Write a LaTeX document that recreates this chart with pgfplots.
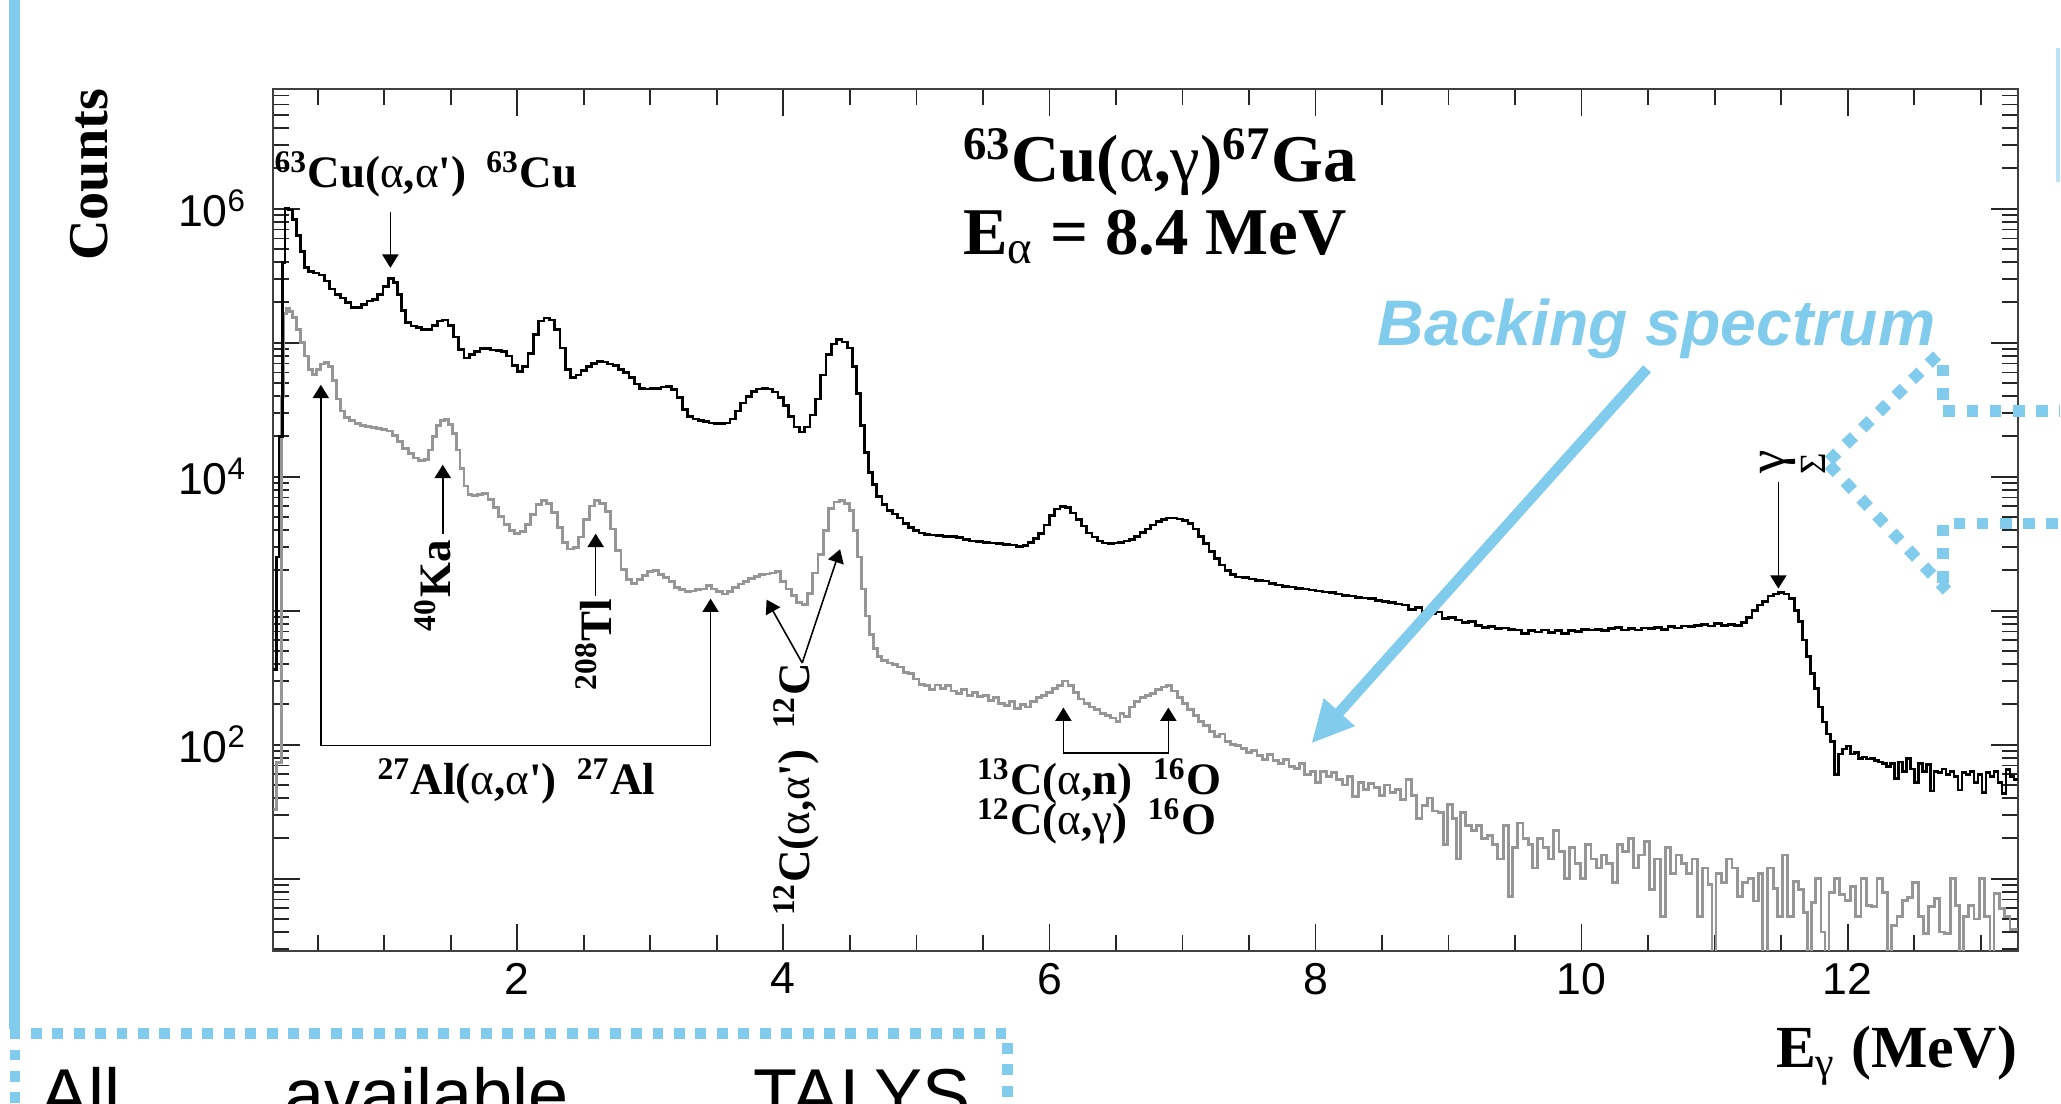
\documentclass[border=0pt]{standalone}
\usepackage{pgfplots}
\usepackage{pgfplotstable}
\pgfplotsset{compat=1.18}
\usepackage{fontspec}
\setmainfont{Liberation Serif}
\newfontfamily\arial{Liberation Sans}
\usetikzlibrary{arrows.meta}
\definecolor{sky}{RGB}{129,204,236}
\definecolor{hgray}{RGB}{150,150,150}
\newcommand{\ga}{{\mdseries α}}
\newcommand{\gam}{{\mdseries γ}}
\newcommand{\sq}{\textquotesingle}

\pgfplotstableread{
E c
0.166 363
0.19 2512
0.21 19950
0.235 398000
0.255 1000000
0.28 977000
0.31 832000
0.34 631000
0.37 479000
0.40 363000
0.43 339000
0.47 331000
0.51 320000
0.55 288000
0.59 251000
0.63 229000
0.67 216000
0.71 200000
0.75 182000
0.79 182000
0.83 193000
0.87 204000
0.91 209000
0.95 229000
0.99 263000
1.03 302000
1.07 282000
1.10 229000
1.13 174000
1.16 141000
1.20 133000
1.24 130000
1.28 126000
1.32 126000
1.36 135000
1.40 145000
1.44 148000
1.48 135000
1.52 110000
1.56 89100
1.60 76700
1.64 81300
1.68 86100
1.72 90200
1.76 90200
1.80 88100
1.84 87100
1.88 86100
1.92 79400
1.96 67600
2.00 61000
2.04 66100
2.08 83200
2.12 115000
2.16 145000
2.20 153000
2.24 148000
2.28 126000
2.32 91200
2.36 63100
2.40 55000
2.44 57500
2.48 61700
2.52 66100
2.56 70000
2.60 72400
2.64 71600
2.68 69200
2.72 67600
2.76 63100
2.80 59600
2.84 55000
2.88 49000
2.92 45700
2.96 45200
3.00 45700
3.04 45700
3.08 46800
3.12 47300
3.16 44700
3.20 38900
3.24 31600
3.28 28200
3.32 26900
3.36 26300
3.40 25700
3.44 25100
3.48 24800
3.52 24800
3.56 25100
3.60 26900
3.64 30900
3.68 35500
3.72 39800
3.76 43200
3.80 45200
3.84 45700
3.88 45200
3.92 42700
3.96 38900
4.00 33900
4.04 28200
4.08 23400
4.12 21600
4.16 23400
4.20 28800
4.24 38000
4.28 57500
4.32 81300
4.36 97700
4.40 105000
4.44 101000
4.48 91200
4.52 66100
4.55 41700
4.58 24000
4.61 15100
4.64 10700
4.67 8710
4.70 7080
4.74 6170
4.78 5620
4.82 5250
4.86 4900
4.90 4470
4.94 4170
4.98 3980
5.02 3800
5.06 3720
5.10 3670
5.15 3630
5.20 3590
5.25 3590
5.30 3510
5.35 3390
5.40 3310
5.45 3270
5.50 3240
5.55 3200
5.60 3160
5.65 3130
5.70 3090
5.75 3020
5.80 3050
5.84 3240
5.88 3470
5.92 3760
5.96 4370
6.00 5130
6.04 5750
6.08 5960
6.12 5890
6.16 5370
6.20 4790
6.24 4270
6.28 3800
6.32 3550
6.36 3310
6.40 3200
6.44 3160
6.48 3200
6.52 3240
6.56 3310
6.60 3390
6.64 3590
6.68 3850
6.72 4070
6.76 4370
6.80 4620
6.84 4790
6.88 4900
6.92 4900
6.96 4840
7.00 4730
7.04 4470
7.08 4070
7.12 3590
7.16 3160
7.20 2750
7.24 2450
7.28 2190
7.32 2000
7.36 1860
7.40 1780
7.45 1760
7.50 1720
7.55 1680
7.60 1660
7.65 1600
7.70 1550
7.75 1510
7.80 1500
7.85 1460
7.90 1450
7.95 1430
8.00 1400
8.05 1380
8.10 1360
8.15 1330
8.20 1300
8.25 1290
8.30 1260
8.35 1240
8.40 1230
8.45 1190
8.50 1170
8.55 1150
8.60 1120
8.65 1100
8.70 1020
8.75 1050
8.80 990
8.85 955
8.90 977
8.95 871
9.00 891
9.05 851
9.10 813
9.15 832
9.20 776
9.25 750
9.30 759
9.35 733
9.40 741
9.45 724
9.50 716
9.55 676
9.60 708
9.65 692
9.70 716
9.75 684
9.80 708
9.85 676
9.90 708
9.95 700
10.00 724
10.05 716
10.10 724
10.15 708
10.20 733
10.25 750
10.30 716
10.35 733
10.40 716
10.45 741
10.50 733
10.55 750
10.60 724
10.65 759
10.70 741
10.75 767
10.80 759
10.85 776
10.90 785
10.95 767
11.00 803
11.05 776
11.10 785
11.15 776
11.20 813
11.24 891
11.28 1000
11.32 1100
11.36 1170
11.40 1290
11.44 1330
11.48 1360
11.52 1330
11.56 1230
11.60 1000
11.63 832
11.66 603
11.69 457
11.72 339
11.75 263
11.78 191
11.81 148
11.84 120
11.87 105
11.90 60
11.93 85
11.96 93
11.99 98
12.02 85
12.05 87
12.08 79
12.11 81
12.14 78
12.17 79
12.20 76
12.23 74
12.26 72
12.29 69
12.32 72
12.35 56
12.38 74
12.41 63
12.44 79
12.47 66
12.50 52
12.53 72
12.56 63
12.59 71
12.62 45
12.65 63
12.68 62
12.71 66
12.74 60
12.77 63
12.80 58
12.83 46
12.86 62
12.89 60
12.92 63
12.95 52
12.98 60
13.01 44
13.04 62
13.07 58
13.10 63
13.13 52
13.16 43
13.19 65
13.22 58
13.25 55
13.28 55
}\blacktab

\pgfplotstableread{
E c
0.166 33
0.19 74
0.225 39800
0.245 166000
0.265 180000
0.29 170000
0.31 155000
0.34 126000
0.37 100000
0.40 79400
0.43 63100
0.46 57500
0.49 63100
0.52 69200
0.55 71600
0.58 66100
0.61 52500
0.64 38000
0.67 30900
0.70 27500
0.74 26300
0.78 25100
0.82 24000
0.86 23700
0.90 23400
0.94 22900
0.98 22600
1.02 21900
1.06 20400
1.10 18200
1.14 16200
1.18 14800
1.22 13800
1.26 13200
1.30 13500
1.33 15800
1.36 20000
1.39 24000
1.42 26300
1.45 26600
1.48 24500
1.51 20900
1.54 15800
1.57 11500
1.60 8510
1.63 7330
1.66 7240
1.70 7410
1.74 7500
1.78 6760
1.82 5890
1.86 5010
1.90 4420
1.94 3980
1.98 3760
2.02 3890
2.06 4370
2.10 5250
2.14 6170
2.18 6610
2.22 6310
2.26 5370
2.30 4170
2.34 3240
2.38 2880
2.42 2950
2.46 3550
2.50 4790
2.54 6030
2.58 6610
2.62 6310
2.66 5500
2.70 4070
2.74 2820
2.78 2040
2.82 1700
2.86 1600
2.90 1700
2.94 1820
2.98 1950
3.02 2000
3.06 1860
3.10 1760
3.14 1660
3.18 1480
3.22 1430
3.26 1380
3.30 1400
3.34 1430
3.38 1450
3.42 1530
3.46 1450
3.50 1380
3.54 1330
3.58 1380
3.62 1480
3.66 1580
3.70 1660
3.74 1740
3.78 1800
3.82 1860
3.86 1880
3.90 1910
3.94 1950
3.98 1660
4.02 1450
4.06 1290
4.10 1150
4.14 1110
4.18 1350
4.22 1910
4.26 2630
4.30 3980
4.34 5750
4.38 6460
4.42 6680
4.46 6310
4.50 5620
4.53 3980
4.56 2510
4.59 1450
4.62 912
4.65 661
4.68 525
4.71 457
4.74 422
4.78 407
4.82 398
4.86 380
4.90 347
4.94 339
4.98 309
5.02 282
5.06 275
5.10 257
5.14 279
5.18 263
5.22 275
5.26 251
5.30 240
5.34 257
5.38 234
5.42 245
5.46 229
5.50 234
5.54 214
5.58 224
5.62 204
5.66 195
5.70 209
5.74 186
5.78 200
5.82 191
5.86 209
5.90 224
5.94 234
5.98 245
6.02 263
6.06 275
6.10 299
6.14 275
6.18 245
6.22 219
6.26 204
6.30 191
6.34 182
6.38 170
6.42 166
6.46 158
6.50 148
6.53 170
6.56 162
6.60 191
6.64 209
6.68 224
6.72 234
6.76 240
6.80 257
6.84 269
6.88 275
6.92 251
6.96 224
7.00 204
7.04 182
7.08 166
7.12 148
7.16 138
7.20 126
7.24 115
7.28 120
7.32 105
7.36 100
7.40 98
7.44 93
7.48 87
7.52 91
7.56 83
7.60 78
7.64 85
7.68 76
7.72 72
7.76 78
7.80 69
7.84 66
7.88 72
7.92 60
7.96 63
8.00 52
8.04 63
8.08 58
8.12 62
8.16 55
8.20 50
8.24 58
8.28 41
8.32 52
8.36 46
8.40 51
8.44 48
8.48 42
8.52 50
8.56 44
8.60 46
8.64 39
8.68 55
8.72 42
8.76 28
8.80 35
8.84 40
8.88 32
8.92 31
8.96 18
8.99 36
9.03 28
9.06 14
9.09 31
9.13 25
9.17 23
9.21 25
9.25 20
9.29 21
9.33 18
9.37 14
9.41 25
9.45 7.4
9.48 17
9.52 26
9.56 20
9.60 18
9.63 12
9.67 20
9.71 17
9.75 14
9.79 23
9.83 16
9.87 10
9.91 17
9.95 13
9.99 10
10.03 18
10.07 14
10.11 12
10.15 15
10.19 13
10.23 9.3
10.27 18
10.31 16
10.35 20
10.39 12
10.43 15
10.47 19
10.51 8.3
10.55 14
10.59 5.2
10.63 17
10.67 11
10.71 15
10.75 13
10.79 11
10.83 14
10.87 5.2
10.91 12
10.95 9.1
10.98 1
11.01 11
11.05 9.3
11.09 14
11.13 12
11.17 7.4
11.21 9.3
11.25 10
11.29 6.8
11.33 11
11.36 1
11.40 12
11.44 8.5
11.47 5.2
11.51 15
11.55 5.2
11.59 9.5
11.63 8.3
11.67 5.6
11.70 1
11.73 6.6
11.76 10
11.80 4
11.83 1
11.86 7.9
11.90 10
11.94 7.6
11.98 6.9
12.02 8.7
12.06 5.2
12.10 10
12.14 6.3
12.18 6.2
12.22 10
12.26 7.9
12.30 1
12.33 4.5
12.37 5.2
12.41 6.9
12.45 7.2
12.49 9.3
12.53 5.2
12.57 3.9
12.61 6.2
12.65 7.1
12.69 4
12.73 3.9
12.77 10
12.81 6.3
12.84 1
12.87 5.2
12.91 6.3
12.95 5
12.99 10
13.03 5.2
13.07 1
13.10 7.8
13.14 6
13.18 5.2
13.22 4.2
13.26 4.2
13.28 4.2
}\graytab

\begin{document}
\begin{tikzpicture}
\useasboundingbox (0,0) rectangle (20.61,11.04);
\clip (0,0) rectangle (20.61,11.04);
\begin{axis}[
  at={(2.733cm,1.533cm)}, anchor=south west,
  scale only axis, width=17.444cm, height=8.614cm,
  xmin=0.166, xmax=13.278,
  ymode=log, ymin=2.9, ymax=7.78e6,
  xtick={2,4,6,8,10,12}, xticklabels={2,4,6,8,10,12},
  minor xtick={0.5,1,...,13},
  ytick={10,100,1000,10000,100000,1000000},
  yticklabels={,10\textsuperscript{2},,10\textsuperscript{4},,10\textsuperscript{6}},
  minor ytick={3,4,5,6,7,8,9,20,30,40,50,60,70,80,90,200,300,400,500,600,700,800,900,2000,3000,4000,5000,6000,7000,8000,9000,20000,30000,40000,50000,60000,70000,80000,90000,200000,300000,400000,500000,600000,700000,800000,900000,2000000,3000000,4000000,5000000,6000000,7000000},
  tick align=inside,
  major tick length=0.27cm, minor tick length=0.16cm,
  every tick/.style={black!85, line width=0.5pt},
  axis line style={line width=0.6pt, black!75},
  ticklabel style={font=\arial\fontsize{12.7pt}{15pt}\selectfont},
  yticklabel style={xshift=-4pt},
  xlabel={E\textsubscript{\gam} (MeV)},
  xlabel style={at={(axis description cs:1,-0.1358)}, anchor=base east, font=\bfseries\fontsize{17pt}{19pt}\selectfont, inner sep=0pt},
  ylabel={Counts},
  ylabel style={at={(axis description cs:-0.1054,0.9005)}, anchor=center, font=\bfseries\fontsize{16pt}{18pt}\selectfont, inner sep=0pt},
]
\addplot[const plot mark left, hgray, line width=0.8pt] table[x=E,y=c] {\graytab};
\addplot[const plot mark left, black, line width=0.75pt] table[x=E,y=c] {\blacktab};
\end{axis}

\begin{scope}[x=0.01cm, y=-0.01cm, yshift=11.04cm]
  % slide decorations
  \fill[sky] (9,0) rectangle (20,1030);
  \fill[sky!55] (2057,48) rectangle (2061,182);
  \draw[sky, line width=3.1pt, dash pattern=on 3.1pt off 3pt] (15,1104) -- (15,1034) -- (1008,1034) -- (1008,1104);
  \node[anchor=base west, inner sep=0pt, font=\arial\fontsize{20.5pt}{24pt}\selectfont] at (40,1120) {All};
  \node[anchor=base west, inner sep=0pt, font=\arial\fontsize{20.5pt}{24pt}\selectfont] at (284,1120) {available};
  \node[anchor=base west, inner sep=0pt, font=\arial\fontsize{20.5pt}{24pt}\selectfont] at (753,1120) {TALYS};
  \draw[sky, line width=3.3pt, dash pattern=on 3.3pt off 3.3pt] (1830,461) -- (1940,354);
  \draw[sky, line width=3.3pt, dash pattern=on 3.3pt off 3.3pt] (1944,365) -- (1944,411) -- (2061,411);
  \draw[sky, line width=3.3pt, dash pattern=on 3.3pt off 3.3pt] (1830,465) -- (1948,591);
  \draw[sky, line width=3.3pt, dash pattern=on 3.3pt off 3.3pt] (1944,583) -- (1944,524) -- (2061,524);
  % title
  \node[anchor=base west, inner sep=0pt, font=\bfseries\fontsize{19pt}{22pt}\selectfont] at (963,182) {\textsuperscript{63}Cu(\ga,\gam)\textsuperscript{67}Ga};
  \node[anchor=base west, inner sep=0pt, font=\bfseries\fontsize{19pt}{22pt}\selectfont] at (963,255) {E\textsubscript{\ga} = 8.4 MeV};
  % annotations
  \begin{scope}[font=\bfseries\fontsize{12.8pt}{15pt}\selectfont, line width=0.45pt, >={Triangle[length=3.8pt,width=4.6pt]}]
    \node[anchor=base west, inner sep=0pt] at (274,188) {\textsuperscript{63}Cu(\ga,\ga\sq)\hspace{0.45em}\textsuperscript{63}Cu};
    \draw[->] (390.6,212) -- (390.6,268);
    \node[rotate=90, inner sep=0pt] at (433,586) {\textsuperscript{40}Ka};
    \draw[->] (443,534) -- (443,465);
    \node[rotate=90, inner sep=0pt] at (594,645) {\textsuperscript{208}Tl};
    \draw[->] (596,596) -- (596,534);
    \draw[->] (321,746) -- (321,385);
    \draw[->] (321,746) -- (711,746) -- (711,599);
    \node[anchor=base west, inner sep=0pt] at (377,795) {\textsuperscript{27}Al(\ga,\ga\sq)\hspace{0.45em}\textsuperscript{27}Al};
    \draw[->] (802.7,663.4) -- (767,600);
    \draw[->] (802.7,663.4) -- (840.6,549.6);
    \node[rotate=90, inner sep=0pt] at (797,790) {\textsuperscript{12}C(\ga,\ga\sq)\hspace{0.45em}\textsuperscript{12}C};
    \draw[->] (1064,753.6) -- (1064,708);
    \draw[->] (1064,753.6) -- (1169,753.6) -- (1169,708);
    \node[anchor=base west, inner sep=0pt] at (977,795) {\textsuperscript{13}C(\ga,n)\hspace{0.45em}\textsuperscript{16}O};
    \node[anchor=base west, inner sep=0pt] at (977,835) {\textsuperscript{12}C(\ga,\gam)\hspace{0.45em}\textsuperscript{16}O};
    \node[rotate=90, inner sep=0pt, font=\mdseries\fontsize{15pt}{17pt}\selectfont] at (1779,462) {γ};
    \node[rotate=90, inner sep=0pt, font=\mdseries\fontsize{10.5pt}{12pt}\selectfont] at (1814,464) {Σ};
    \draw[->] (1779.4,482) -- (1779.4,589);
  \end{scope}
  % backing spectrum label
  \node[anchor=base west, inner sep=0pt, text=sky, font=\arial\bfseries\itshape\fontsize{18.3pt}{21pt}\selectfont] at (1378,346) {Backing spectrum};
  \draw[sky, line width=3pt, -{Triangle[length=12pt,width=11pt]}] (1648,369) -- (1312,744);
\end{scope}
\end{tikzpicture}
\end{document}
